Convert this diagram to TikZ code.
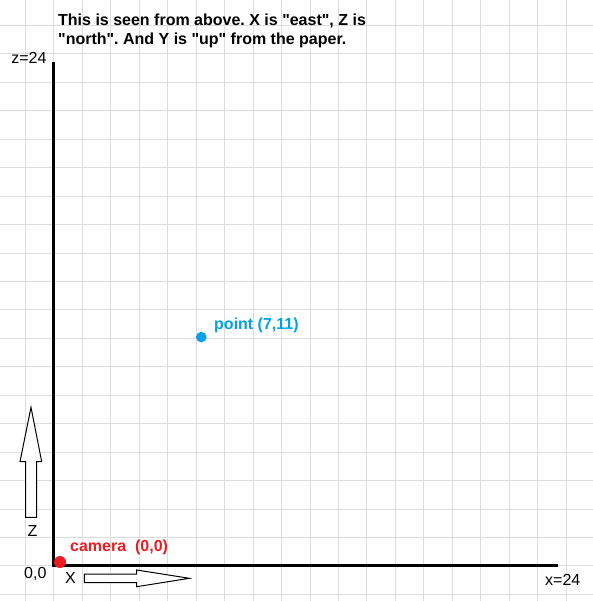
\documentclass[tikz,border=0pt]{standalone}
\usepackage{fontspec}
\setmainfont{Liberation Sans}
\usetikzlibrary{positioning}
\definecolor{gridgray}{RGB}{221,221,221}
\definecolor{camred}{RGB}{237,28,36}
\definecolor{ptblue}{RGB}{0,162,232}
\newcommand{\lblfont}{\fontsize{16}{19}\selectfont}
\newcommand{\dq}{\textquotedbl}
\frenchspacing

\begin{document}
\begin{tikzpicture}[
    x=21pt, y=21pt,
    gridline/.style={draw=gridgray, line width=1pt},
    axisline/.style={draw=black, line width=3pt},
    dot/.style={circle, inner sep=0pt, minimum size=#1},
    txt/.style={inner sep=0pt, font=\lblfont},
    boldtxt/.style={inner sep=0pt, font=\lblfont\bfseries},
    blockarrow/.style={draw=black, fill=white, line width=1pt, line join=miter}
]
    \useasboundingbox[fill=white] (-2.5714,-1.6667) rectangle (25.6667,26.9524);

    % background grid
    \draw[gridline] (-2.5714,-1.6667) grid (25.6667,26.9524);

    % axes
    \coordinate (origin) at (0,0);
    \coordinate (ztop) at (0,24);
    \coordinate (xend) at (24,0);
    \draw[axisline] (ztop) -- (origin) -- (xend);

    % axis labels
    \node[txt, anchor=base east] (zmax) at (-0.348,23.94) {z=24};
    \node[txt, anchor=base west] (xmax) at (23.38,-0.905) {x=24};
    \node[txt, anchor=base east] (zero) at (-0.348,-0.586) {0,0};

    % direction arrows
    \draw[blockarrow] (-1.348,2.319) -- (-0.824,2.319) -- (-0.824,4.967) -- (-0.586,4.967)
        -- (-1.095,7.557) -- (-1.619,4.967) -- (-1.348,4.967) -- cycle;
    \draw[blockarrow] (1.443,-0.381) -- (3.938,-0.381) -- (3.938,-0.19) -- (6.443,-0.586)
        -- (3.938,-0.986) -- (3.938,-0.795) -- (1.443,-0.795) -- cycle;
    \node[txt, anchor=base] (zdir) at (-1.024,1.381) {Z};
    \node[txt, anchor=base] (xdir) at (0.78,-0.81) {X};

    % camera and point
    \node[dot=12pt, fill=camred] (camera) at (0.286,0.19) {};
    \node[boldtxt, text=camred, anchor=base west] (camlabel) at (0.762,0.681) {camera\ \ (0,0)};
    \node[dot=10.6pt, fill=ptblue] (point) at (7.014,10.9) {};
    \node[boldtxt, text=ptblue, anchor=base west] (ptlabel) at (7.619,11.24) {point (7,11)};

    % note
    \node[boldtxt, anchor=base west, align=left] (note) at (0.19,24.81)
        {This is seen from above. X is \dq east\dq, Z is\\\dq north\dq. And Y is \dq up\dq\ from the paper.};
\end{tikzpicture}
\end{document}
